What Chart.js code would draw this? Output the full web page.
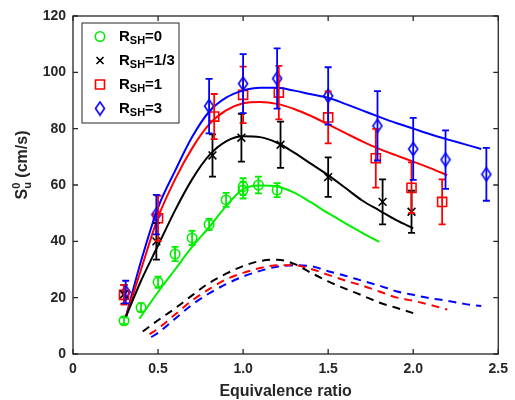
<!DOCTYPE html>
<html>
<head>
<meta charset="utf-8">
<script src="https://cdn.jsdelivr.net/npm/chart.js@4"></script>
<style>
  html, body { margin: 0; padding: 0; background: #fff; }
</style>
</head>
<body>
<canvas id="chart" width="515" height="400"></canvas>
<script>
// measured points (markers + error bars)
const phi0 = [0.30, 0.40, 0.50, 0.60, 0.70, 0.80, 0.90, 1.00, 1.00, 1.09, 1.20];
const su0 = [11.8, 16.5, 25.5, 35.5, 41.2, 46.0, 54.7, 58.2, 59.4, 60.0, 58.2];
const err0 = [1.2, 1.5, 2, 2.5, 2.5, 2, 2.5, 3, 3, 3, 2.5];

const phi13 = [0.30, 0.49, 0.82, 0.99, 1.22, 1.50, 1.82, 1.99];
const su13 = [21.2, 40.0, 70.5, 76.8, 74.3, 62.8, 54.0, 50.5];
const err13 = [3.3, 6.5, 7.5, 8.5, 8.2, 7.0, 8.0, 7.5];

const phi1 = [0.30, 0.50, 0.83, 1.00, 1.21, 1.50, 1.78, 1.99, 2.17];
const su1 = [21.0, 48.2, 84.3, 92.0, 92.8, 84.0, 69.5, 59.0, 54.0];
const err1 = [3.5, 8, 8, 10, 9.5, 9.2, 10.4, 9, 8];

const phi3 = [0.31, 0.49, 0.80, 1.00, 1.20, 1.50, 1.79, 2.00, 2.19, 2.43];
const su3 = [22.0, 49.5, 88.0, 96.0, 97.8, 91.6, 81.0, 72.8, 69.0, 63.8];
const err3 = [4, 7, 9.7, 10.5, 10.7, 10.2, 12.3, 11, 10.4, 9.4];

// solid curves
const cPhi0 = [0.39, 0.5, 0.6, 0.7, 0.8, 0.9, 1.0, 1.1, 1.2, 1.3, 1.4, 1.5, 1.6, 1.7, 1.8];
const cSu0 = [12.5, 22, 30, 38, 45, 52.5, 58.5, 59.8, 59.5, 57.3, 53.8, 50, 46.5, 43, 39.8];

const cPhi13 = [0.31, 0.4, 0.5, 0.6, 0.7, 0.8, 0.9, 1.0, 1.1, 1.2, 1.3, 1.4, 1.5, 1.6, 1.7, 1.8, 1.9, 2.0];
const cSu13 = [13, 26, 38.5, 51, 62, 70.5, 75.5, 77.3, 77, 75, 71.5, 67.5, 63.5, 59, 54.5, 51, 47.5, 44.6];

const cPhi1 = [0.31, 0.4, 0.5, 0.6, 0.7, 0.8, 0.9, 1.0, 1.1, 1.2, 1.3, 1.4, 1.5, 1.6, 1.7, 1.8, 1.9, 2.0, 2.1, 2.2];
const cSu1 = [13, 30, 48.5, 62, 73, 81.5, 86.5, 89, 89.5, 88.8, 87, 84.5, 81.5, 78.5, 75.5, 72.8, 70.5, 68.3, 66, 63.5];

const cPhi3 = [0.31, 0.4, 0.5, 0.6, 0.7, 0.8, 0.9, 1.0, 1.1, 1.2, 1.3, 1.4, 1.5, 1.6, 1.7, 1.8, 1.9, 2.0, 2.1, 2.2, 2.3, 2.4];
const cSu3 = [13, 33, 52, 65, 77, 86, 91, 93.5, 94.5, 94.5, 93.5, 92.2, 91, 88.8, 86.5, 84.2, 82, 80, 78, 76.2, 74.5, 72.8];

// dashed curves
const dPhi13 = [0.41, 0.5, 0.6, 0.7, 0.8, 0.9, 1.0, 1.1, 1.2, 1.3, 1.4, 1.5, 1.6, 1.7, 1.8, 1.9, 2.0];
const dSu13 = [8, 12, 16.2, 20.8, 25.2, 28.5, 31.2, 33, 33.5, 32, 28.8, 25.8, 23.2, 20.8, 18.3, 16.4, 14.5];

const dPhi1 = [0.45, 0.5, 0.6, 0.7, 0.8, 0.9, 1.0, 1.1, 1.2, 1.3, 1.4, 1.5, 1.6, 1.7, 1.8, 1.9, 2.0, 2.1, 2.2];
const dSu1 = [7, 9, 14, 19, 23, 26.5, 28.8, 30.5, 31.5, 31.5, 30.2, 28.1, 26.1, 24.3, 22.2, 20.1, 18.9, 17.4, 15.8];

const dPhi3 = [0.46, 0.5, 0.6, 0.7, 0.8, 0.9, 1.0, 1.1, 1.2, 1.3, 1.4, 1.5, 1.6, 1.7, 1.8, 1.9, 2.0, 2.1, 2.2, 2.3, 2.4];
const dSu3 = [6, 7.5, 12.5, 17.5, 21.5, 24.8, 27.5, 29.5, 31, 31.5, 31.2, 29.4, 27.8, 26, 24.3, 22.3, 21, 19.8, 18.9, 17.8, 17];

const xTicks = [0, 0.5, 1, 1.5, 2, 2.5];
const yTicks = [0, 20, 40, 60, 80, 100, 120];
const legendLabels = ['0', '1/3', '1', '3'];

const GREEN = '#00ee00', BLACK = '#000000', RED = '#ff0000', BLUE = '#0000ff';
const AXIS = '#262626';
const FONT = '"Liberation Sans", Arial, sans-serif';

function pts(xs, ys) { return xs.map((x, i) => ({ x: x, y: ys[i] })); }

function curve(xs, ys, color, dash) {
  return {
    data: pts(xs, ys), showLine: true, borderColor: color, borderWidth: 2,
    borderDash: dash || [], pointRadius: 0, pointHoverRadius: 0,
    cubicInterpolationMode: 'monotone', fill: false
  };
}

function markers(xs, ys, errs, color, style, r) {
  return {
    data: pts(xs, ys), errs: errs, showLine: false,
    borderColor: color, backgroundColor: 'rgba(0,0,0,0)',
    pointStyle: style, pointRadius: r, pointBorderWidth: 1.6, pointHoverRadius: r
  };
}

function diamond(color) {
  const c = document.createElement('canvas');
  c.width = 12; c.height = 16;
  const g = c.getContext('2d');
  g.strokeStyle = color; g.lineWidth = 1.6;
  g.beginPath();
  g.moveTo(6, 1.5); g.lineTo(10.5, 8); g.lineTo(6, 14.5); g.lineTo(1.5, 8);
  g.closePath(); g.stroke();
  return c;
}
const diamondImg = diamond(BLUE);

const errorBars = {
  id: 'errorBars',
  afterDatasetsDraw(chart) {
    const { ctx, chartArea: a, scales: { x, y } } = chart;
    ctx.save();
    ctx.beginPath(); ctx.rect(a.left, a.top, a.right - a.left, a.bottom - a.top); ctx.clip();
    ctx.lineWidth = 1.8;
    chart.data.datasets.forEach(d => {
      if (!d.errs) return;
      ctx.strokeStyle = d.borderColor;
      d.data.forEach((p, i) => {
        const px = x.getPixelForValue(p.x);
        const y1 = y.getPixelForValue(p.y + d.errs[i]);
        const y2 = y.getPixelForValue(p.y - d.errs[i]);
        ctx.beginPath();
        ctx.moveTo(px, y1); ctx.lineTo(px, y2);
        ctx.moveTo(px - 3.5, y1); ctx.lineTo(px + 3.5, y1);
        ctx.moveTo(px - 3.5, y2); ctx.lineTo(px + 3.5, y2);
        ctx.stroke();
      });
    });
    ctx.restore();
  }
};

const frame = {
  id: 'frame',
  afterDraw(chart) {
    const { ctx, chartArea: a, scales: { x, y } } = chart;
    ctx.save();
    ctx.strokeStyle = AXIS; ctx.lineWidth = 1.3;
    ctx.strokeRect(a.left, a.top, a.right - a.left, a.bottom - a.top);
    ctx.beginPath();
    xTicks.forEach(v => {
      const px = x.getPixelForValue(v);
      ctx.moveTo(px, a.bottom); ctx.lineTo(px, a.bottom - 5);
      ctx.moveTo(px, a.top); ctx.lineTo(px, a.top + 5);
    });
    yTicks.forEach(v => {
      const py = y.getPixelForValue(v);
      ctx.moveTo(a.left, py); ctx.lineTo(a.left + 5, py);
      ctx.moveTo(a.right, py); ctx.lineTo(a.right - 5, py);
    });
    ctx.stroke();

    // axis titles
    ctx.fillStyle = AXIS;
    ctx.font = 'bold 16px ' + FONT;
    ctx.textAlign = 'center'; ctx.textBaseline = 'alphabetic';
    ctx.fillText('Equivalence ratio', (a.left + a.right) / 2, 396);

    ctx.save();
    ctx.translate(27, 165);
    ctx.rotate(-Math.PI / 2);
    ctx.textAlign = 'left';
    const big = 'bold 16px ' + FONT, small = 'bold 11px ' + FONT;
    ctx.font = big; const wS = ctx.measureText('S').width;
    ctx.font = small; const wSub = Math.max(ctx.measureText('0').width, ctx.measureText('u').width);
    ctx.font = big; const wRest = ctx.measureText(' (cm/s)').width;
    let cx = -(wS + wSub + wRest) / 2;
    ctx.font = big; ctx.fillText('S', cx, 0); cx += wS;
    ctx.font = small; ctx.fillText('0', cx, -7); ctx.fillText('u', cx, 4); cx += wSub;
    ctx.font = big; ctx.fillText(' (cm/s)', cx, 0);
    ctx.restore();

    // legend
    const lx = 82, ly = 23, lw = 97, lh = 100;
    ctx.fillStyle = '#fff';
    ctx.fillRect(lx, ly, lw, lh);
    ctx.strokeStyle = AXIS; ctx.lineWidth = 1;
    ctx.strokeRect(lx, ly, lw, lh);
    const colors = [GREEN, BLACK, RED, BLUE];
    legendLabels.forEach((lab, i) => {
      const base = 41 + i * 24;
      const mx = 100, my = base - 4.5;
      ctx.strokeStyle = colors[i]; ctx.lineWidth = 1.6;
      ctx.beginPath();
      if (i === 0) ctx.arc(mx, my, 4.7, 0, Math.PI * 2);
      if (i === 1) { ctx.moveTo(mx - 3.5, my - 3.5); ctx.lineTo(mx + 3.5, my + 3.5); ctx.moveTo(mx + 3.5, my - 3.5); ctx.lineTo(mx - 3.5, my + 3.5); }
      if (i === 2) ctx.rect(mx - 4.5, my - 4.5, 9, 9);
      ctx.stroke();
      if (i === 3) ctx.drawImage(diamondImg, mx - 6, my - 8);
      ctx.fillStyle = '#000';
      ctx.textAlign = 'left';
      let tx = 119;
      ctx.font = 'bold 15px ' + FONT; ctx.fillText('R', tx, base); tx += ctx.measureText('R').width;
      ctx.font = 'bold 11px ' + FONT; ctx.fillText('SH', tx, base + 3); tx += ctx.measureText('SH').width;
      ctx.font = 'bold 15px ' + FONT; ctx.fillText('=' + lab, tx, base);
    });
    ctx.restore();
  }
};

new Chart(document.getElementById('chart'), {
  type: 'scatter',
  data: {
    datasets: [
      curve(cPhi0, cSu0, GREEN),
      curve(cPhi13, cSu13, BLACK),
      curve(cPhi1, cSu1, RED),
      curve(cPhi3, cSu3, BLUE),
      curve(dPhi13, dSu13, BLACK, [8, 6]),
      curve(dPhi1, dSu1, RED, [8, 6]),
      curve(dPhi3, dSu3, BLUE, [8, 6]),
      markers(phi0, su0, err0, GREEN, 'circle', 4.7),
      markers(phi13, su13, err13, BLACK, 'crossRot', 5.5),
      markers(phi1, su1, err1, RED, 'rect', 6.4),
      markers(phi3, su3, err3, BLUE, diamondImg, 6)
    ]
  },
  options: {
    responsive: false,
    animation: false,
    devicePixelRatio: 1,
    layout: { padding: { top: 16, right: 10, left: 0, bottom: 0 } },
    plugins: { legend: { display: false }, tooltip: { enabled: false } },
    scales: {
      x: {
        type: 'linear', min: 0, max: 2.5,
        afterBuildTicks(s) { s.ticks = xTicks.map(v => ({ value: v })); },
        ticks: { color: AXIS, font: { family: FONT, size: 14, weight: 'bold' }, padding: 7, maxRotation: 0 },
        grid: { display: false, drawTicks: false },
        border: { display: false },
        afterFit(s) { s.height = 46; }
      },
      y: {
        type: 'linear', min: 0, max: 120,
        afterBuildTicks(s) { s.ticks = yTicks.map(v => ({ value: v })); },
        ticks: { color: AXIS, font: { family: FONT, size: 14, weight: 'bold' }, padding: 7 },
        grid: { display: false, drawTicks: false },
        border: { display: false },
        afterFit(s) { s.width = 73; }
      }
    }
  },
  plugins: [errorBars, frame]
});
</script>
</body>
</html>
